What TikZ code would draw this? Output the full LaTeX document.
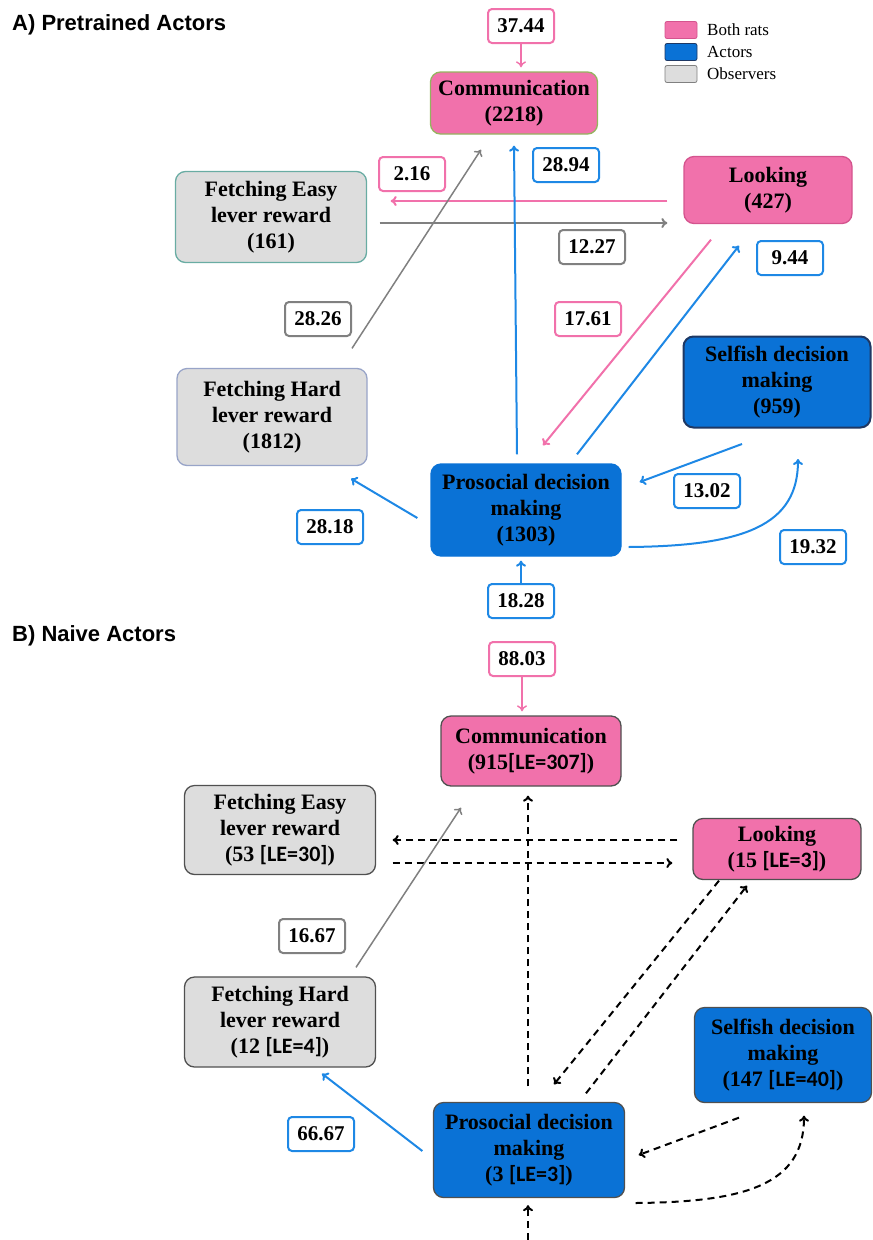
\documentclass[tikz,border=0pt]{standalone}
\usepackage{fontspec}
\setmainfont{Liberation Serif}
\newfontfamily\lefont{Carlito}
\newfontfamily\headfont{Liberation Sans}
\usetikzlibrary{arrows.meta,calc}

\definecolor{ratpink}{RGB}{241,113,171}
\definecolor{actblue}{RGB}{10,114,214}
\definecolor{obsgray}{RGB}{221,221,221}
\definecolor{arrblue}{RGB}{30,136,229}
\definecolor{arrgray}{RGB}{128,128,128}
\definecolor{edgegreen}{RGB}{148,180,95}
\definecolor{edgeteal}{RGB}{105,172,163}
\definecolor{edgeslate}{RGB}{152,164,200}
\definecolor{edgepink}{RGB}{212,84,142}
\definecolor{edgenavy}{RGB}{30,56,100}
\definecolor{edgedark}{RGB}{80,80,80}

\newcommand{\lebox}[1]{{\lefont[LE=#1]}}

\begin{document}
\begin{tikzpicture}[x=1pt,y=-1pt,
	>={To[length=6pt,width=10pt]},
	state/.style={draw,rounded corners=10pt,align=center,inner sep=0pt,line width=1.3pt,
		font=\bfseries\fontsize{22}{26}\selectfont},
	num/.style={draw,fill=white,rounded corners=4pt,line width=2pt,minimum width=66pt,
		minimum height=34pt,inner sep=0pt,font=\bfseries\fontsize{21}{25}\selectfont},
	key/.style={draw,rounded corners=2pt,line width=0.8pt,minimum width=32pt,minimum height=17pt,inner sep=0pt},
	keytext/.style={anchor=west,inner sep=0pt,font=\fontsize{17}{20}\selectfont},
	head/.style={anchor=west,inner sep=0pt,font=\headfont\bfseries\fontsize{22}{26}\selectfont},
	link/.style={->,line width=2pt},
	dlink/.style={->,line width=2pt,dash pattern=on 7pt off 5pt}]
	\useasboundingbox (0,0) rectangle (873,1240);
	
	%legend
	\node[key,fill=ratpink,draw=edgepink] (keyboth) at (681,30) {};
	\node[key,fill=actblue,draw=edgenavy] (keyact) at (681,52) {};
	\node[key,fill=obsgray,draw=arrgray] (keyobs) at (681,74) {};
	\node[keytext] (keybothtxt) at (707,30) {Both rats};
	\node[keytext] (keyacttxt) at (707,52) {Actors};
	\node[keytext] (keyobstxt) at (707,74) {Observers};
	
	%panel A
	\node[head] (titleA) at (12,25) {A) Pretrained Actors};
	\node[state,fill=ratpink,draw=edgegreen,minimum width=167pt,minimum height=62pt] (comA) at (514,103) {Communication\\(2218)};
	\node[state,fill=ratpink,draw=edgepink,minimum width=168pt,minimum height=67pt] (lookA) at (768,190) {Looking\\(427)};
	\node[state,fill=obsgray,draw=edgeteal,minimum width=191pt,minimum height=91pt] (feA) at (271,217) {Fetching Easy\\lever reward\\(161)};
	\node[state,fill=actblue,draw=edgenavy,line width=2pt,minimum width=187pt,minimum height=91pt] (selA) at (777,382) {Selfish decision\\making\\(959)};
	\node[state,fill=obsgray,draw=edgeslate,minimum width=190pt,minimum height=97pt] (fhA) at (272,417) {Fetching Hard\\lever reward\\(1812)};
	\node[state,fill=actblue,draw=actblue,minimum width=190pt,minimum height=92pt] (proA) at (526,510) {Prosocial decision\\making\\(1303)};
	
	\node[num,draw=ratpink] (a3744) at (521,26) {37.44};
	\node[num,draw=arrblue] (a2894) at (566,165) {28.94};
	\node[num,draw=ratpink] (a216) at (412,174) {2.16};
	\node[num,draw=arrgray] (a1227) at (592,247) {12.27};
	\node[num,draw=arrblue] (a944) at (790,258) {9.44};
	\node[num,draw=arrgray] (a2826) at (318,319) {28.26};
	\node[num,draw=ratpink] (a1761) at (588,319) {17.61};
	\node[num,draw=arrblue] (a1302) at (707,491) {13.02};
	\node[num,draw=arrblue] (a2818) at (330,527) {28.18};
	\node[num,draw=arrblue] (a1932) at (813,547) {19.32};
	\node[num,draw=arrblue] (a1828) at (521,601) {18.28};
	
	\draw[->,line width=1.4pt,ratpink,shorten >=4pt] (a3744.south) -- (a3744.south |- comA.north);
	\draw[link,ratpink] ($(lookA.west)+(-16,11)$) -- ($(feA.east)+(23.5,-16)$);
	\draw[link,arrgray] ($(feA.east)+(12.5,6)$) -- ($(lookA.west)+(-16,33)$);
	\draw[link,arrgray,line width=1.5pt] ($(fhA.north)+(80,-19.5)$) -- ($(comA.south)+(-33,15)$);
	\draw[link,arrblue] ($(proA.north)+(-9,-9)$) -- ($(comA.south)+(0,11)$);
	\draw[link,ratpink] ($(lookA.south)+(-57,15.5)$) -- ($(proA.north)+(17,-18)$);
	\draw[link,arrblue] ($(proA.north)+(51,-9)$) -- ($(lookA.south)+(-29,21.5)$);
	\draw[link,arrblue] ($(proA.west)+(-13,8)$) -- ($(fhA.south)+(79,12.5)$);
	\draw[link,arrblue] ($(selA.south)+(-35,15.5)$) -- ($(proA.east)+(18,-28)$);
	\draw[link,arrblue] ($(proA.east)+(7,37)$) .. controls (745,546) and (798,525) .. ($(selA.south)+(21,30.5)$);
	\draw[link,arrblue,shorten >=4pt] (a1828.north) -- (a1828.north |- proA.south);
	
	%panel B
	\node[head] (titleB) at (12,636) {B) Naive Actors};
	\node[state,fill=ratpink,draw=edgedark,minimum width=180pt,minimum height=70pt] (comB) at (531,751) {Communication\\(915\lebox{307})};
	\node[state,fill=obsgray,draw=edgedark,minimum width=191pt,minimum height=89pt] (feB) at (280,830) {Fetching Easy\\lever reward\\(53 \lebox{30})};
	\node[state,fill=ratpink,draw=edgedark,minimum width=168pt,minimum height=61pt] (lookB) at (777,849) {Looking\\(15 \lebox{3})};
	\node[state,fill=obsgray,draw=edgedark,minimum width=191pt,minimum height=90pt] (fhB) at (280,1022) {Fetching Hard\\lever reward\\(12 \lebox{4})};
	\node[state,fill=actblue,draw=edgedark,minimum width=177pt,minimum height=95pt] (selB) at (783,1055) {Selfish decision\\making\\(147 \lebox{40})};
	\node[state,fill=actblue,draw=edgedark,minimum width=191pt,minimum height=95pt] (proB) at (529,1150) {Prosocial decision\\making\\(3 \lebox{3})};
	
	\node[num,draw=ratpink] (b8803) at (522,659) {88.03};
	\node[num,draw=arrgray] (b1667) at (312,936) {16.67};
	\node[num,draw=arrblue] (b6667) at (321,1134) {66.67};
	\coordinate (bedge) at (528,1240);
	
	\draw[->,line width=1.4pt,ratpink,shorten >=4pt] (b8803.south) -- (b8803.south |- comB.north);
	\draw[dlink] ($(lookB.west)+(-15,-9)$) -- ($(feB.east)+(16.5,10)$);
	\draw[dlink] ($(feB.east)+(16.5,33)$) -- ($(lookB.west)+(-20,14)$);
	\draw[dlink] ($(proB.north)+(-1,-15.5)$) -- ($(comB.south)+(-3,9)$);
	\draw[link,arrgray,line width=1.5pt] ($(fhB.north)+(76,-9)$) -- ($(comB.south)+(-70,21)$);
	\draw[dlink] ($(lookB.south)+(-58,0.5)$) -- ($(proB.north)+(25,-17.5)$);
	\draw[dlink] ($(proB.north)+(57,-8.5)$) -- ($(lookB.south)+(-30,5.5)$);
	\draw[link,arrblue] ($(proB.west)+(-10.5,1)$) -- ($(fhB.south)+(42,6)$);
	\draw[dlink] ($(selB.south)+(-44,14.5)$) -- ($(proB.east)+(13.5,5)$);
	\draw[dlink] ($(proB.east)+(10.5,53)$) .. controls (745,1202) and (804,1185) .. ($(selB.south)+(21,12.5)$);
	\draw[dlink,shorten >=7pt] (bedge) -- (bedge |- proB.south);
\end{tikzpicture}
\end{document}
